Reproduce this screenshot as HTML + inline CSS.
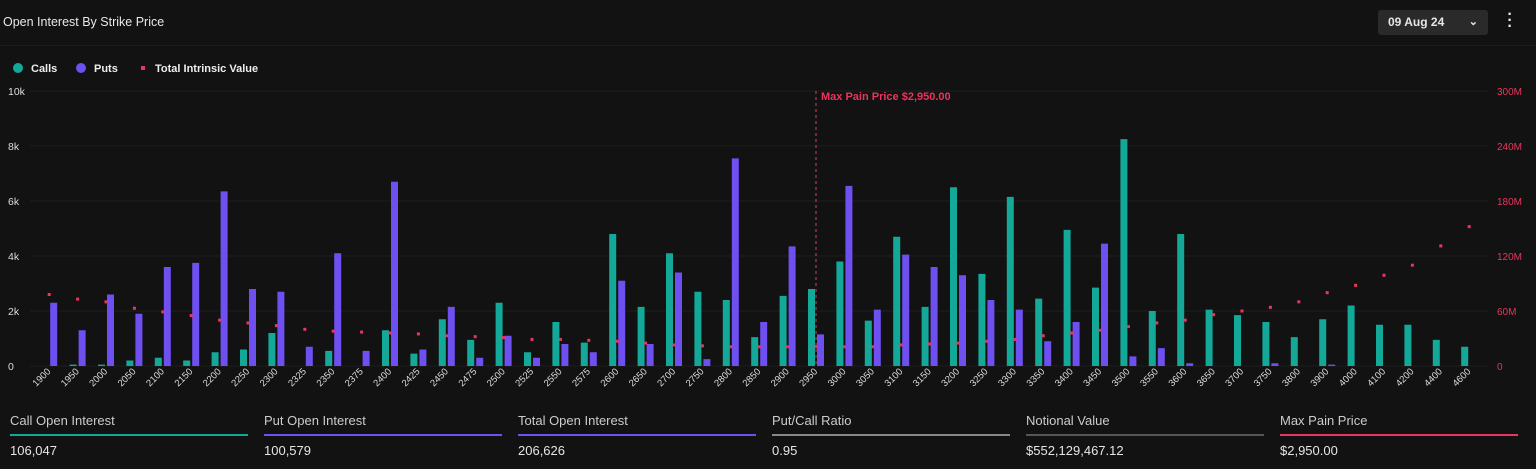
<!DOCTYPE html>
<html><head><meta charset="utf-8"><style>
body{margin:0;width:1536px;height:469px;background:#121212;font-family:"Liberation Sans",sans-serif;color:#e6e6e6;overflow:hidden;position:relative}
.t{position:absolute}
</style></head><body>
<div class="t" style="left:3px;top:15px;font-size:12.5px;color:#e8e8e8">Open Interest By Strike Price</div>
<div class="t" style="left:1378px;top:10px;width:110px;height:25px;background:#2a2a2a;border-radius:3px;font-size:12px;font-weight:bold;line-height:25px;box-sizing:border-box;padding-left:10px">09 Aug 24<span style="position:absolute;right:10px;top:0;font-size:11px">&#8964;</span></div>
<div class="t" style="left:1505px;top:12px;font-size:16px;font-weight:bold;line-height:6px;width:10px;text-align:center">·<br>·<br>·</div>
<div class="t" style="left:0;top:45px;width:1536px;height:1px;background:#1c1c1c"></div>
<svg id="c" class="t" style="left:0;top:0" width="1536" height="400"></svg>
<script>
const cats=[1900,1950,2000,2050,2100,2150,2200,2250,2300,2325,2350,2375,2400,2425,2450,2475,2500,2525,2550,2575,2600,2650,2700,2750,2800,2850,2900,2950,3000,3050,3100,3150,3200,3250,3300,3350,3400,3450,3500,3550,3600,3650,3700,3750,3800,3900,4000,4100,4200,4400,4600];
const calls=[0,50,50,200,300,200,500,600,1200,0,550,0,1300,450,1700,950,2300,500,1600,850,4800,2150,4100,2700,2400,1050,2550,2800,3800,1650,4700,2150,6500,3350,6150,2450,4950,2850,8250,2000,4800,2050,1850,1600,1050,1700,2200,1500,1500,950,700];
const puts=[2300,1300,2600,1900,3600,3750,6350,2800,2700,700,4100,550,6700,600,2150,300,1100,300,800,500,3100,800,3400,250,7550,1600,4350,1150,6550,2050,4050,3600,3300,2400,2050,900,1600,4450,350,650,100,0,0,100,0,50,0,0,0,0,0];
const intrinsic=[78,73,70,63,59,55,50,47,44,40,38,37,36,35,33,32,31,29,29,28,27,25,23,22,21,21,21,21,21,21,23,24,25,27,29,33,36,39,43,47,50,56,60,64,70,80,88,99,110,131,152];
const leftTicks=[0,2000,4000,6000,8000,10000];
const leftLabels=["0","2k","4k","6k","8k","10k"];
const rightTicks=[0,60,120,180,240,300];
const rightLabels=["0","60M","120M","180M","240M","300M"];
const maxPain=2950;
const svg=document.getElementById('c');const NS='http://www.w3.org/2000/svg';
const y0=366,yTop=91,x0=35,step=28.4;
const yL=v=>y0-(v/10000)*(y0-yTop);
const yR=v=>y0-(v/300)*(y0-yTop);
const xc=i=>x0+step*(i+0.5);
function mk(tag,a,parent){const e=document.createElementNS(NS,tag);for(const k in a)e.setAttribute(k,a[k]);(parent||svg).appendChild(e);return e;}
leftTicks.forEach((t,i)=>{
 const l=mk('line',{x1:30,x2:1488,y1:yL(t),y2:yL(t),stroke:'#1d1d1d',"stroke-width":1});
 
 
 const tx=mk('text',{x:8,y:yL(t)+4,fill:'#ddd',"font-size":10.5});tx.textContent=leftLabels[i];
 
 
});
rightTicks.forEach((t,i)=>{
 const tx=mk('text',{x:1497,y:yR(t)+4,fill:'#e8365d',"font-size":10});tx.textContent=rightLabels[i];
 
 
});
[[18,'#14a899','Calls'],[81,'#6e4ff0','Puts']].forEach(([x,c,s])=>{
 const g=mk('g',{});
 mk('circle',{cx:x,cy:68,r:5,fill:c},g);const t=mk('text',{x:x+13,y:72,fill:'#eee',"font-size":11,"font-weight":"bold"},g);t.textContent=s;
});
const lg=mk('g',{});
mk('rect',{x:141,y:66,width:4,height:4,fill:'#e8365d'},lg);
const lt=mk('text',{x:155,y:72,fill:'#eee',"font-size":11,"font-weight":"bold"},lg);lt.textContent='Total Intrinsic Value';
cats.forEach((c,i)=>{
 const cx=xc(i);
 const b1=mk('rect',{x:cx-8,y:yL(calls[i]),width:7,height:y0-yL(calls[i]),fill:'#14a899'});
 
 
 const b2=mk('rect',{x:cx+1,y:yL(puts[i]),width:7,height:y0-yL(puts[i]),fill:'#6e4ff0'});
 
 
 const d=mk('rect',{x:cx-1.5,y:yR(intrinsic[i])-1.5,width:3,height:3,fill:'#e8365d'});
 
 
 const tx=mk('text',{x:cx+2,y:372,fill:'#ddd',"font-size":9.5,"text-anchor":"end",transform:`rotate(-45 ${cx+2} 372)`});tx.textContent=c;
 
 
});
const mi=cats.indexOf(maxPain);const mx=xc(mi);
const ml=mk('line',{x1:mx,x2:mx,y1:91,y2:366,stroke:'#e8365d',"stroke-dasharray":"3,3","stroke-width":1});


const mt=mk('text',{x:mx+5,y:100,fill:'#e8365d',"font-size":11,"font-weight":"bold"});mt.textContent='Max Pain Price $2,950.00';


</script>
<div>
<div class="t" style="left:10px;top:413px;width:238px"><div style="font-size:13px;color:#ccc">Call Open Interest</div><div style="height:2px;background:#14a899;margin-top:6px"></div><div style="font-size:13px;margin-top:7px">106,047</div></div>
<div class="t" style="left:264px;top:413px;width:238px"><div style="font-size:13px;color:#ccc">Put Open Interest</div><div style="height:2px;background:#6e4ff0;margin-top:6px"></div><div style="font-size:13px;margin-top:7px">100,579</div></div>
<div class="t" style="left:518px;top:413px;width:238px"><div style="font-size:13px;color:#ccc">Total Open Interest</div><div style="height:2px;background:#6e4ff0;margin-top:6px"></div><div style="font-size:13px;margin-top:7px">206,626</div></div>
<div class="t" style="left:772px;top:413px;width:238px"><div style="font-size:13px;color:#ccc">Put/Call Ratio</div><div style="height:2px;background:#888;margin-top:6px"></div><div style="font-size:13px;margin-top:7px">0.95</div></div>
<div class="t" style="left:1026px;top:413px;width:238px"><div style="font-size:13px;color:#ccc">Notional Value</div><div style="height:2px;background:#555;margin-top:6px"></div><div style="font-size:13px;margin-top:7px">$552,129,467.12</div></div>
<div class="t" style="left:1280px;top:413px;width:238px"><div style="font-size:13px;color:#ccc">Max Pain Price</div><div style="height:2px;background:#e8365d;margin-top:6px"></div><div style="font-size:13px;margin-top:7px">$2,950.00</div></div>
</div>
</body></html>
